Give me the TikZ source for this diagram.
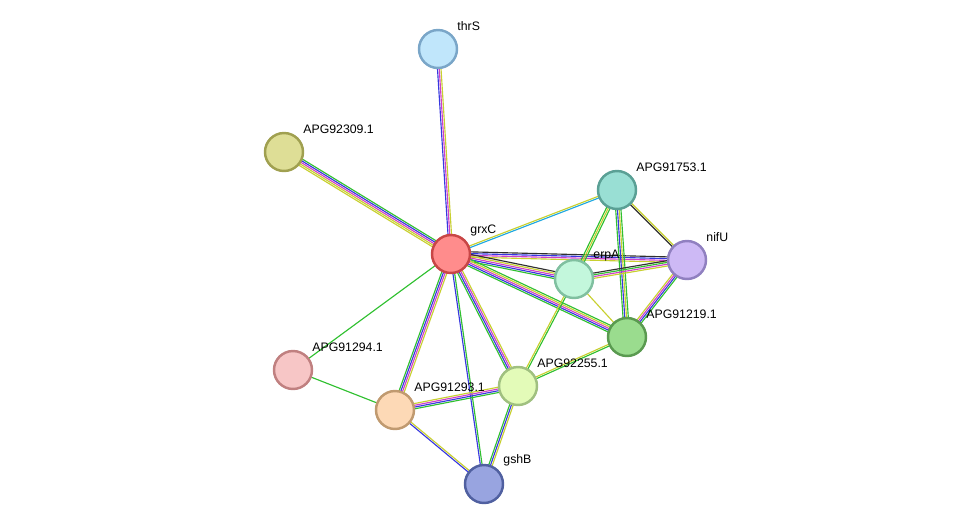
\documentclass[tikz,border=0pt]{standalone}
\usepackage{fontspec}
\setmainfont{Liberation Sans}
\usetikzlibrary{calc,backgrounds}

\definecolor{tm}{HTML}{C8D030}
\definecolor{ex}{HTML}{D040C8}
\definecolor{db}{HTML}{3838E0}
\definecolor{nb}{HTML}{30C030}
\definecolor{fu}{HTML}{20A8E0}
\definecolor{co}{HTML}{303030}

\tikzset{
  prot/.style={circle,draw,line width=1.4pt,minimum size=0.76cm,inner sep=0pt},
  lbl/.style={font=\fontsize{7}{8}\selectfont,inner sep=1pt,anchor=south west},
  band/.style={line width=0.65pt}
}
% multi-colour connector: list of colour/offset pairs
\newcommand{\edgeband}[3]{%
  \foreach \c/\o in {#3}
    \draw[band,\c] ($(#1)!\o*1pt!90:(#2)$) -- ($(#2)!\o*1pt!-90:(#1)$);}

\begin{document}
\begin{tikzpicture}[x=0.02cm,y=-0.02cm]
  \useasboundingbox (0,0) rectangle (975,529);

  \node[prot,fill={rgb,255:red,192;green,230;blue,251},draw={rgb,255:red,122;green,166;blue,200}] (thrS) at (438,49) {};
  \node[prot,fill={rgb,255:red,222;green,222;blue,150},draw={rgb,255:red,160;green,160;blue,80}] (p309) at (284,152) {};
  \node[prot,fill={rgb,255:red,153;green,223;blue,212},draw={rgb,255:red,90;green,160;blue,149}] (p753) at (617,190) {};
  \node[prot,fill={rgb,255:red,255;green,140;blue,140},draw={rgb,255:red,200;green,70;blue,70}] (grxC) at (451,254) {};
  \node[prot,fill={rgb,255:red,205;green,185;blue,245},draw={rgb,255:red,144;green,128;blue,192}] (nifU) at (687,260) {};
  \node[prot,fill={rgb,255:red,195;green,247;blue,220},draw={rgb,255:red,128;green,192;blue,160}] (erpA) at (574,279) {};
  \node[prot,fill={rgb,255:red,154;green,220;blue,142},draw={rgb,255:red,90;green,154;blue,80}] (p219) at (627,337) {};
  \node[prot,fill={rgb,255:red,247;green,198;blue,198},draw={rgb,255:red,192;green,128;blue,128}] (p294) at (293,370) {};
  \node[prot,fill={rgb,255:red,227;green,251;blue,184},draw={rgb,255:red,160;green,192;blue,128}] (p255) at (518,386) {};
  \node[prot,fill={rgb,255:red,253;green,217;blue,182},draw={rgb,255:red,192;green,154;blue,112}] (p293) at (395,410) {};
  \node[prot,fill={rgb,255:red,152;green,164;blue,224},draw={rgb,255:red,80;green,96;blue,160}] (gshB) at (484,484) {};

  \node[lbl] at ([shift={(3,-2)}]thrS.north east) {thrS};
  \node[lbl] at ([shift={(3,-2)}]p309.north east) {APG92309.1};
  \node[lbl] at ([shift={(3,-2)}]p753.north east) {APG91753.1};
  \node[lbl] at ([shift={(3,-2)}]grxC.north east) {grxC};
  \node[lbl] at ([shift={(3,-2)}]nifU.north east) {nifU};
  \node[lbl] at ([shift={(3,-2)}]erpA.north east) {erpA};
  \node[lbl] at ([shift={(3,-2)}]p219.north east) {APG91219.1};
  \node[lbl] at ([shift={(3,-2)}]p294.north east) {APG91294.1};
  \node[lbl] at ([shift={(3,-2)}]p255.north east) {APG92255.1};
  \node[lbl] at ([shift={(3,-2)}]p293.north east) {APG91293.1};
  \node[lbl] at ([shift={(3,-2)}]gshB.north east) {gshB};

  \begin{scope}[on background layer]
    \edgeband{grxC}{thrS}{tm/-1,ex/0,db/1}
    \edgeband{grxC}{p309}{nb/-2,db/-1,ex/0,tm/1,tm/2}
    \edgeband{grxC}{p753}{fu/-0.5,tm/0.5}
    \edgeband{grxC}{nifU}{tm/-1.5,ex/-0.5,db/0.5,co/1.5}
    \edgeband{grxC}{erpA}{nb/-2,db/-1,ex/0,tm/1,co/2}
    \edgeband{grxC}{p219}{nb/-2,db/-1,ex/0,tm/1,nb/2}
    \edgeband{grxC}{p255}{nb/-1.5,db/-0.5,ex/0.5,tm/1.5}
    \edgeband{grxC}{p293}{nb/-1.5,db/-0.5,ex/0.5,tm/1.5}
    \edgeband{grxC}{gshB}{db/-0.5,nb/0.5}
    \edgeband{grxC}{p294}{nb/0}
    \edgeband{p294}{p293}{nb/0}
    \edgeband{p293}{p255}{nb/-1.5,db/-0.5,ex/0.5,tm/1.5}
    \edgeband{p293}{gshB}{db/-0.5,tm/0.5}
    \edgeband{p255}{gshB}{nb/-1,db/0,tm/1}
    \edgeband{p255}{erpA}{nb/-0.5,tm/0.5}
    \edgeband{p255}{p219}{nb/-0.5,tm/0.5}
    \edgeband{p753}{erpA}{nb/-1,tm/0,nb/1}
    \edgeband{p753}{nifU}{co/-0.5,tm/0.5}
    \edgeband{p753}{p219}{nb/-1.5,db/-0.5,tm/0.5,nb/1.5}
    \edgeband{erpA}{nifU}{tm/-1.5,ex/-0.5,nb/0.5,co/1.5}
    \edgeband{erpA}{p219}{tm/0}
    \edgeband{nifU}{p219}{tm/-1.5,ex/-0.5,db/0.5,nb/1.5}
  \end{scope}
\end{tikzpicture}
\end{document}
